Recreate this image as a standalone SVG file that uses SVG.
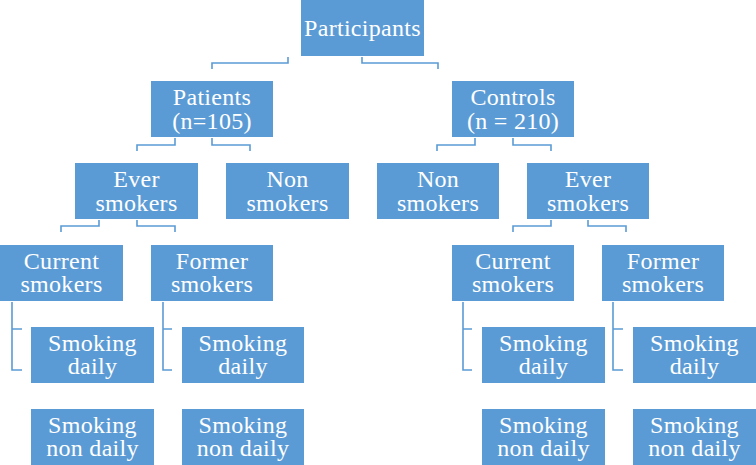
<svg xmlns="http://www.w3.org/2000/svg" width="756" height="465" viewBox="0 0 756 465">
<style>
.box{fill:#5B9BD5;}
.t{font-family:"Liberation Serif","Times New Roman",serif;font-size:24px;fill:#FFFFFF;text-anchor:middle;letter-spacing:0.3px;}
.c{fill:none;stroke:#5B9BD5;stroke-width:1.6;}
</style>
<rect width="756" height="465" fill="#FFFFFF"/>
<g id="connectors">
<path class="c" d="M288,57 V63 H212 V69"/>
<path class="c" d="M362,57 V63 H438 V69"/>
<path class="c" d="M175,138 V145 H137 V151"/>
<path class="c" d="M212,138 V145 H250 V151"/>
<path class="c" d="M475,138 V145 H437 V151"/>
<path class="c" d="M513,138 V145 H551 V151"/>
<path class="c" d="M99,220 V226 H61 V232"/>
<path class="c" d="M137,220 V226 H175 V232"/>
<path class="c" d="M551,220 V226 H513 V232"/>
<path class="c" d="M588,220 V226 H626 V232"/>
<path class="c" d="M22,329 H12 V302 M12,329 V370 H22"/>
<path class="c" d="M172,329 H163 V302 M163,329 V370 H172"/>
<path class="c" d="M472,329 H463 V302 M463,329 V370 H472"/>
<path class="c" d="M623,329 H613 V302 M613,329 V370 H623"/>
</g>
<g id="participants"><rect class="box" x="301" y="0" width="123" height="56"/><text class="t" x="362.5" y="35.5">Participants</text></g>
<g id="patients"><rect class="box" x="151" y="81" width="122" height="56"/><text class="t" x="212" y="105">Patients</text><text class="t" x="212" y="129">(n=105)</text></g>
<g id="controls"><rect class="box" x="452" y="81" width="122" height="56"/><text class="t" x="513" y="105">Controls</text><text class="t" x="513" y="129">(n = 210)</text></g>
<g id="ever-left"><rect class="box" x="75" y="163" width="123" height="56"/><text class="t" x="136.5" y="187">Ever</text><text class="t" x="136.5" y="211">smokers</text></g>
<g id="non-left"><rect class="box" x="226" y="163" width="123" height="56"/><text class="t" x="287.5" y="187">Non</text><text class="t" x="287.5" y="211">smokers</text></g>
<g id="non-right"><rect class="box" x="377" y="163" width="122" height="56"/><text class="t" x="438" y="187">Non</text><text class="t" x="438" y="211">smokers</text></g>
<g id="ever-right"><rect class="box" x="527" y="163" width="122" height="56"/><text class="t" x="588" y="187">Ever</text><text class="t" x="588" y="211">smokers</text></g>
<g id="current-left"><rect class="box" x="0" y="245" width="123" height="56"/><text class="t" x="61.5" y="268.5">Current</text><text class="t" x="61.5" y="292">smokers</text></g>
<g id="former-left"><rect class="box" x="151" y="245" width="122" height="56"/><text class="t" x="212" y="268.5">Former</text><text class="t" x="212" y="292">smokers</text></g>
<g id="current-right"><rect class="box" x="452" y="245" width="122" height="56"/><text class="t" x="513" y="268.5">Current</text><text class="t" x="513" y="292">smokers</text></g>
<g id="former-right"><rect class="box" x="602" y="245" width="122" height="56"/><text class="t" x="663" y="268.5">Former</text><text class="t" x="663" y="292">smokers</text></g>
<g id="daily-cl"><rect class="box" x="31" y="327" width="123" height="56"/><text class="t" x="92.5" y="350.5">Smoking</text><text class="t" x="92.5" y="374">daily</text></g>
<g id="daily-fl"><rect class="box" x="182" y="327" width="122" height="56"/><text class="t" x="243" y="350.5">Smoking</text><text class="t" x="243" y="374">daily</text></g>
<g id="daily-cr"><rect class="box" x="482" y="327" width="123" height="56"/><text class="t" x="543.5" y="350.5">Smoking</text><text class="t" x="543.5" y="374">daily</text></g>
<g id="daily-fr"><rect class="box" x="633" y="327" width="123" height="56"/><text class="t" x="694.5" y="350.5">Smoking</text><text class="t" x="694.5" y="374">daily</text></g>
<g id="nondaily-cl"><rect class="box" x="31" y="409" width="123" height="56"/><text class="t" x="92.5" y="432.5">Smoking</text><text class="t" x="92.5" y="456">non daily</text></g>
<g id="nondaily-fl"><rect class="box" x="182" y="409" width="122" height="56"/><text class="t" x="243" y="432.5">Smoking</text><text class="t" x="243" y="456">non daily</text></g>
<g id="nondaily-cr"><rect class="box" x="482" y="409" width="123" height="56"/><text class="t" x="543.5" y="432.5">Smoking</text><text class="t" x="543.5" y="456">non daily</text></g>
<g id="nondaily-fr"><rect class="box" x="633" y="409" width="123" height="56"/><text class="t" x="694.5" y="432.5">Smoking</text><text class="t" x="694.5" y="456">non daily</text></g>
</svg>
